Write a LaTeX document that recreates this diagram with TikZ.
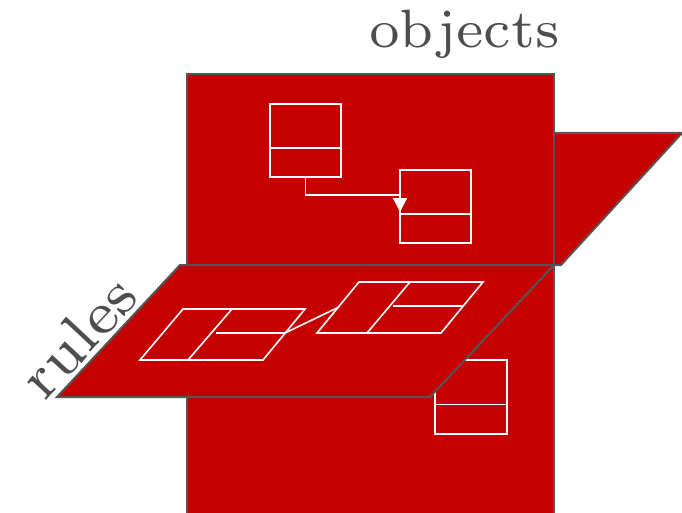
\documentclass[tikz,border=0pt]{standalone}
\usetikzlibrary{arrows.meta,calc}
\definecolor{planered}{HTML}{C40000}
\definecolor{edgegray}{HTML}{555555}
\definecolor{labelgray}{HTML}{4D4D4D}
% heavier small-design-size faces for the big labels
\font\objfont=cmr7 at 54pt
\font\rulefont=cmr7 at 60pt
\begin{document}
\begin{tikzpicture}[x=1pt,y=-1pt,
  plane/.style={fill=planered,draw=edgegray,line width=2pt,line join=miter},
  classbox/.style={draw=white,line width=1.8pt,minimum width=71pt,minimum height=73pt,
    inner sep=0pt,outer sep=0pt},
  wline/.style={draw=white,line width=1.8pt},
  sketch/.style={draw=white,line width=1.6pt,line join=miter},
  biglabel/.style={text=labelgray,inner sep=0pt}
]
\useasboundingbox (0,0) rectangle (682,513);
\clip (0,0) rectangle (682,513);

% vertical plane holding the objects
\path[plane] (187,74) rectangle (554,520);

\node[classbox] (b1) at (305.5,140.5) {};
\node[classbox] (b2) at (435.5,206.5) {};
\node[classbox,minimum width=72pt,minimum height=74pt] (b3) at (471,397) {};
\foreach \b in {b1,b2,b3}
  \draw[wline] ($(\b.north west)!0.6!(\b.south west)$) -- ($(\b.north east)!0.6!(\b.south east)$);

\coordinate (bend) at ($(b2.north west)+(0,25)$);
\coordinate (tip) at ($(b2.north west)+(0,42)$);
\draw[wline,-{Triangle[width=14pt,length=14pt]}] (b1.south) |- (bend) -- (tip);

% side plane on the right
\path[plane] (554,133) -- (682,133) -- (561,265) -- (554,265) -- cycle;

% horizontal plane holding the rules
\path[plane] (180,265) -- (554,265) -- (430,397) -- (57,397) -- cycle;

% left rule sketch
\coordinate (l1) at (183,309); \coordinate (l2) at (305,309);
\coordinate (l3) at (263,360); \coordinate (l4) at (140,360);
\draw[sketch] (l1) -- (l2) -- (l3) -- (l4) -- cycle;
\draw[sketch] (232,309) -- (188,360);
\coordinate (lmid) at (285,333);
\draw[sketch] (216,333) -- (lmid);

% right rule sketch
\coordinate (r1) at (359,282); \coordinate (r2) at (483,282);
\coordinate (r3) at (441,333); \coordinate (r4) at (317,333);
\draw[sketch] (r1) -- (r2) -- (r3) -- (r4) -- cycle;
\draw[sketch] (410,282) -- (367,333);
\coordinate (rmid) at (339,307);
\draw[sketch] (393,306) -- (463,306);

% link between the two rule sketches
\draw[sketch] (lmid) -- (rmid);

% labels
\node[biglabel,font=\objfont,anchor=base] (objlabel) at (464.5,48) {objects};
\node[biglabel,font=\rulefont,rotate=47] (rulelabel) at (78,336) {rules};
\end{tikzpicture}
\end{document}
